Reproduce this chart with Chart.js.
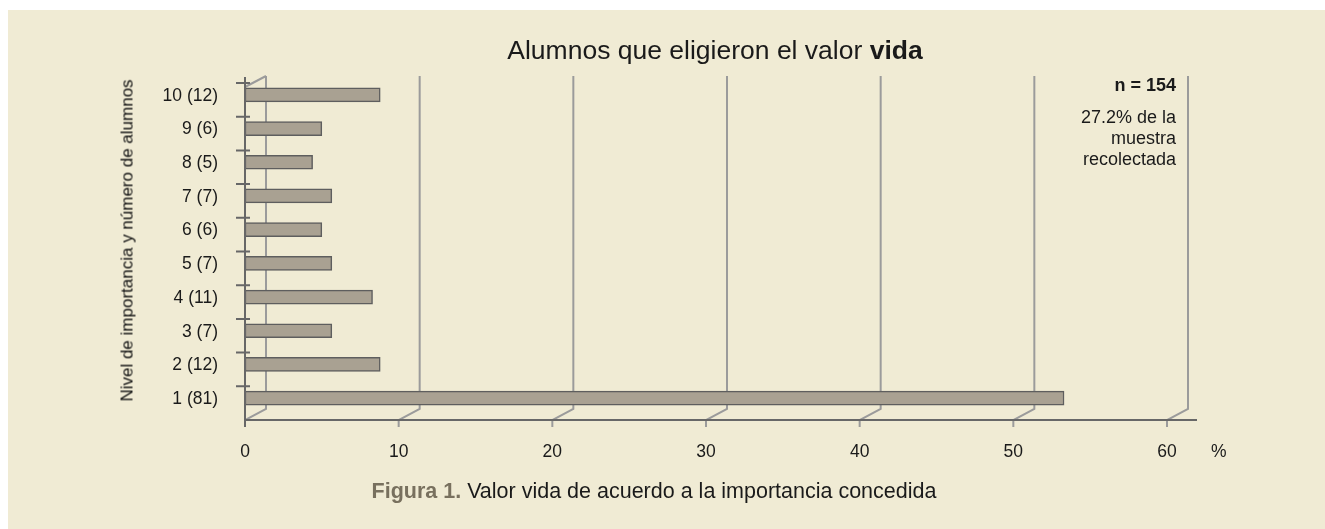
<!DOCTYPE html>
<html>
<head>
<meta charset="utf-8">
<script src="https://cdn.jsdelivr.net/npm/chart.js@4/dist/chart.umd.min.js"></script>
<style>
  html, body { margin: 0; padding: 0; background: #fff; }
  #wrap { position: relative; width: 1325px; height: 529px; overflow: hidden; font-family: "Liberation Sans", Arial, sans-serif; color: #1a1a1a; }
  #bg { position: absolute; left: 8px; top: 10px; right: 0; bottom: 0; background: #f0ebd4; }
  #c { position: absolute; left: 0; top: 0; }
  .txt { position: absolute; white-space: nowrap; }
  #title { left: 0; width: 1430px; top: 37px; font-size: 26.5px; line-height: 26.5px; text-align: center; }
  #caption { left: 0; width: 1308px; top: 481px; font-size: 21.5px; line-height: 21.5px; text-align: center; }
  #caption b { color: #78705e; }
  #note { right: 149px; top: 75px; font-size: 18px; line-height: 21px; text-align: right; }
  #note b { display: block; margin-bottom: 11px; }
  #ytitle { left: -73px; top: 232px; width: 400px; font-size: 17px; line-height: 17px; text-align: center; transform: rotate(-90deg); color: #111; }
  #unit { left: 1211px; top: 443px; font-size: 17.5px; line-height: 17.5px; }
</style>
</head>
<body>
<div id="wrap">
  <div id="bg"></div>
  <canvas id="c" width="1325" height="529"></canvas>
  <div class="txt" id="title">Alumnos que eligieron el valor <b>vida</b></div>
  <div class="txt" id="note"><b>n = 154</b>27.2% de la<br>muestra<br>recolectada</div>
  <div class="txt" id="ytitle">Nivel de importancia y número de alumnos</div>
  <div class="txt" id="unit">%</div>
  <div class="txt" id="caption"><b>Figura 1.</b> Valor vida de acuerdo a la importancia concedida</div>
</div>
<script>
// categories top to bottom: importance level (number of students)
const categories = ['10 (12)', '9 (6)', '8 (5)', '7 (7)', '6 (6)', '5 (7)', '4 (11)', '3 (7)', '2 (12)', '1 (81)'];
// bar lengths in %
const percentValues = [8.8, 5.0, 4.4, 5.65, 5.0, 5.65, 8.3, 5.65, 8.8, 53.3];
const xTicks = [0, 10, 20, 30, 40, 50, 60];

// fake 3D depth of the back wall
const DX = 21, DY = 11;

const frame = {
  id: 'frame',
  beforeDatasetsDraw(chart) {
    const { ctx, chartArea: a, scales: { x } } = chart;
    ctx.save();
    ctx.strokeStyle = '#9b9b9b';
    ctx.lineWidth = 2;
    xTicks.forEach(v => {
      const px = x.getPixelForValue(v);
      ctx.beginPath();
      ctx.moveTo(px, a.bottom + 7);
      ctx.lineTo(px, a.bottom);
      ctx.lineTo(px + DX, a.bottom - DY);
      ctx.lineTo(px + DX, a.top - 7);
      ctx.stroke();
    });
    // top edge of the side wall
    ctx.beginPath();
    ctx.moveTo(a.left, a.top + 4);
    ctx.lineTo(a.left + DX, a.top - 7);
    ctx.stroke();
    ctx.restore();
    // bars sit slightly up in the depth
    ctx.save();
    ctx.translate(0, -5);
  },
  afterDatasetsDraw(chart) {
    const { ctx, chartArea: a, scales: { x } } = chart;
    ctx.restore();
    ctx.save();
    ctx.strokeStyle = '#676767';
    ctx.lineWidth = 2;
    ctx.beginPath();
    ctx.moveTo(a.left, a.top - 6);
    ctx.lineTo(a.left, a.bottom + 7);
    ctx.moveTo(a.left, a.bottom);
    ctx.lineTo(x.getPixelForValue(xTicks[xTicks.length - 1]) + 30, a.bottom);
    const band = (a.bottom - a.top) / categories.length;
    for (let i = 0; i < categories.length; i++) {
      const py = a.top + i * band;
      ctx.moveTo(a.left - 9, py);
      ctx.lineTo(a.left + 5, py);
    }
    ctx.stroke();
    ctx.restore();
  }
};

new Chart(document.getElementById('c'), {
  type: 'bar',
  data: {
    labels: categories,
    datasets: [{
      data: percentValues,
      backgroundColor: '#a9a192',
      borderColor: '#5e5e5e',
      borderWidth: 1.5,
      borderSkipped: false,
      barThickness: 14
    }]
  },
  options: {
    indexAxis: 'y',
    responsive: false,
    animation: false,
    layout: { padding: { left: 0, top: 83, right: 158, bottom: 0 } },
    plugins: { legend: { display: false }, tooltip: { enabled: false } },
    scales: {
      x: {
        min: xTicks[0],
        max: xTicks[xTicks.length - 1],
        ticks: { stepSize: 10, color: '#1a1a1a', padding: 22, font: { family: 'Liberation Sans', size: 17.5 } },
        grid: { display: false, drawTicks: false },
        border: { display: false },
        afterFit(s) { s.height = 109; }
      },
      y: {
        ticks: { color: '#1a1a1a', padding: 27, labelOffset: -4, font: { family: 'Liberation Sans', size: 17.5 } },
        grid: { display: false, drawTicks: false },
        border: { display: false },
        afterFit(s) { s.width = 245; }
      }
    }
  },
  plugins: [frame]
});
</script>
</body>
</html>
